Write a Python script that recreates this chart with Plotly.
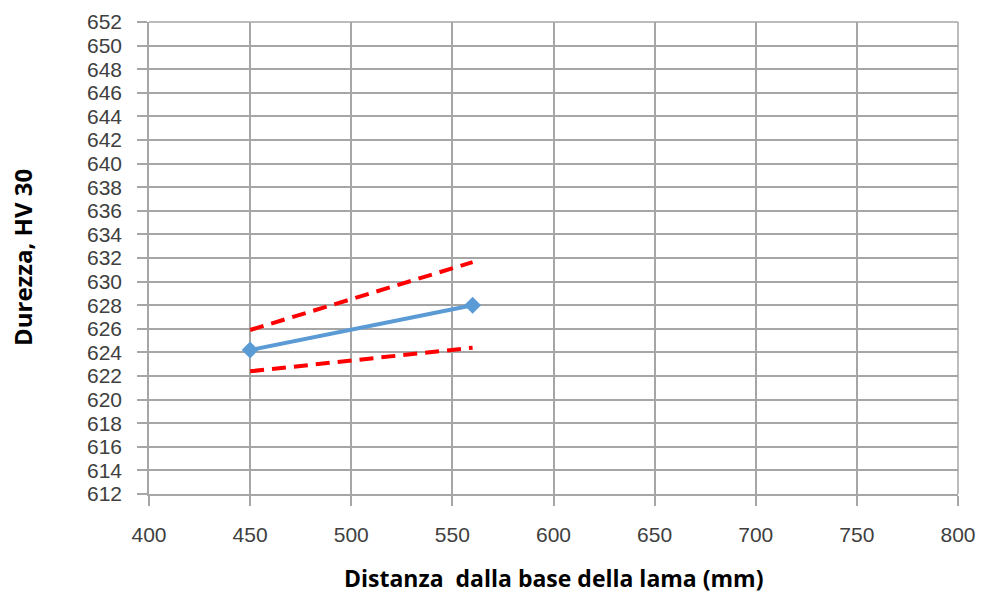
import plotly.graph_objects as go

# Hardness measurements along the blade
distanza = [450, 560]
durezza = [624.2, 628.0]
limite_sup = [625.9, 631.65]
limite_inf = [622.4, 624.4]

x_ticks = list(range(400, 801, 50))
y_ticks = list(range(612, 653, 2))

grid = "#a6a6a6"
tick_font = "Liberation Sans, Arial, sans-serif"
title_font = "Open Sans, Liberation Sans, sans-serif"

fig = go.Figure()
for limite in (limite_sup, limite_inf):
    fig.add_trace(go.Scatter(
        x=distanza, y=limite, mode="lines",
        line=dict(color="#ff0000", width=4, dash="14px,8px"), showlegend=False))
fig.add_trace(go.Scatter(
    x=distanza, y=durezza, mode="lines+markers",
    line=dict(color="#5b9bd5", width=4),
    marker=dict(symbol="diamond", size=13, color="#5b9bd5"),
    showlegend=False))

fig.update_layout(
    width=982, height=593,
    margin=dict(l=149, r=24, t=22, b=99),
    paper_bgcolor="white", plot_bgcolor="white",
    font=dict(family=tick_font, color="#404040"),
)
fig.update_xaxes(
    range=[400, 800], tickvals=x_ticks, ticktext=[str(v) for v in x_ticks],
    automargin=False,
    showgrid=True, gridcolor=grid, gridwidth=1.5,
    showline=True, linecolor=grid, linewidth=1.5,
    ticks="outside", ticklen=10, tickcolor=grid, tickwidth=1.5,
    ticklabelstandoff=11,
    tickfont=dict(size=21, color="#404040"),
    zeroline=False,
)
fig.update_yaxes(
    range=[612, 652], tickvals=y_ticks, ticktext=[str(v) for v in y_ticks],
    automargin=False,
    showgrid=True, gridcolor=grid, gridwidth=1.5,
    showline=True, linecolor=grid, linewidth=1.5,
    ticks="outside", ticklen=10, tickcolor=grid, tickwidth=1.5,
    ticklabelstandoff=11,
    tickfont=dict(size=21, color="#404040"),
    zeroline=False,
)
# right and top border along the outer gridlines
fig.add_shape(type="line", xref="paper", yref="paper", x0=1, x1=1, y0=0, y1=1,
              line=dict(color=grid, width=1.5))
fig.add_shape(type="line", xref="paper", yref="paper", x0=0, x1=1, y0=1, y1=1,
              line=dict(color=grid, width=1.5))

# axis titles
fig.add_annotation(
    text="<b>Distanza  dalla base della lama (mm)</b>",
    xref="paper", yref="paper", x=0.5, y=0, xanchor="center", yanchor="middle",
    yshift=-84, showarrow=False,
    font=dict(family=title_font, size=23, color="#000000"))
fig.add_annotation(
    text="<b>Durezza, HV 30</b>", textangle=-90,
    xref="paper", yref="paper", x=0, y=0.5, xanchor="center", yanchor="middle",
    xshift=-127, showarrow=False,
    font=dict(family=title_font, size=24, color="#000000"))

fig.write_html("out.html")
